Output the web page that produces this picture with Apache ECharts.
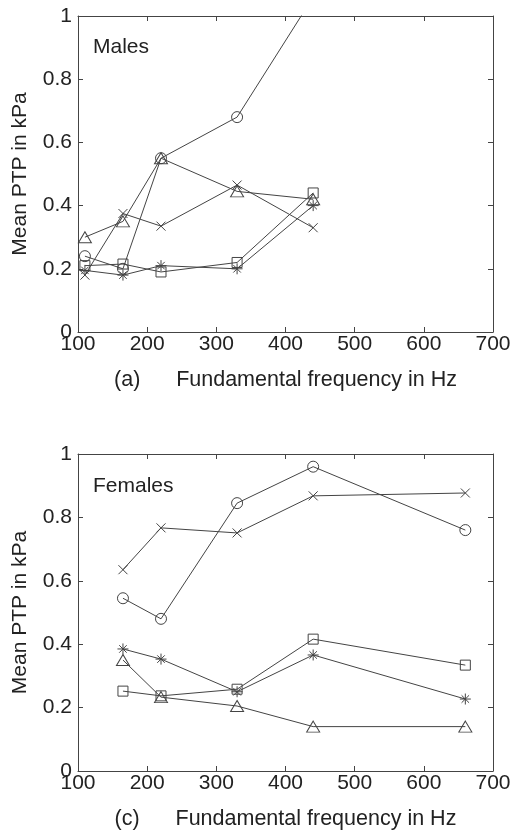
<!DOCTYPE html>
<html>
<head>
<meta charset="utf-8">
<script src="https://cdn.jsdelivr.net/npm/echarts@6/dist/echarts.min.js"></script>
<style>
  html, body { margin: 0; padding: 0; background: #fff; }
  #main { width: 511px; height: 830px; }
</style>
</head>
<body>
<div id="main"></div>
<script>
// x positions (Hz)
var freqMales = [110, 165, 220, 330, 440];
var freqFemales = [165, 220, 330, 440, 660];

// males, mean PTP in kPa
var mCircle = [0.24, 0.20, 0.55, 0.68, 1.06];
var mTriangle = [0.30, 0.35, 0.55, 0.445, 0.42];
var mCross = [0.18, 0.375, 0.335, 0.465, 0.33];
var mSquare = [0.21, 0.215, 0.19, 0.22, 0.44];
var mStar = [0.195, 0.18, 0.21, 0.20, 0.40];

// females
var fCircle = [0.545, 0.48, 0.845, 0.96, 0.76];
var fCross = [0.635, 0.767, 0.751, 0.868, 0.877];
var fStar = [0.385, 0.353, 0.25, 0.366, 0.227];
var fTriangle = [0.35, 0.233, 0.205, 0.14, 0.14];
var fSquare = [0.252, 0.237, 0.258, 0.416, 0.334];

var yTicks = [0, 0.2, 0.4, 0.6, 0.8, 1];

var ink = '#444';
var font = 'Liberation Sans, Arial, sans-serif';
var fs = 21;

var crossPath = 'path://M0,0L10,10M10,0L0,10';
var starPath = 'path://M5,0L5,10M0,5L10,5M1.6,1.6L8.4,8.4M8.4,1.6L1.6,8.4';

function zip(xs, ys) {
  return xs.map(function (x, i) { return [x, ys[i]]; });
}

function line(xs, ys, symbol, size, idx) {
  return {
    type: 'line',
    xAxisIndex: idx * 2,
    yAxisIndex: idx * 2,
    data: zip(xs, ys),
    symbol: symbol,
    symbolSize: size,
    clip: true,
    animation: false,
    lineStyle: { color: ink, width: 1 },
    itemStyle: { color: 'rgba(0,0,0,0)', borderColor: ink, borderWidth: 1 },
    emphasis: { disabled: true }
  };
}

function xAxes(grid, name) {
  return [{
    gridIndex: grid, type: 'value', min: 100, max: 700, interval: 100,
    axisLine: { onZero: false, lineStyle: { color: ink, width: 1 } },
    axisTick: { inside: true, length: 5, lineStyle: { color: ink } },
    axisLabel: { color: '#222', fontSize: fs, fontFamily: font, margin: 2 },
    splitLine: { show: false },
    name: name, nameLocation: 'middle', nameGap: 37,
    nameTextStyle: { color: '#222', fontSize: 21.5, fontFamily: font }
  }, {
    gridIndex: grid, type: 'value', position: 'top', min: 100, max: 700, interval: 100,
    axisLine: { onZero: false, lineStyle: { color: ink, width: 1 } },
    axisTick: { inside: true, length: 5, lineStyle: { color: ink } },
    axisLabel: { show: false },
    splitLine: { show: false }
  }];
}

function yAxes(grid) {
  return [{
    gridIndex: grid, type: 'value', min: 0, max: 1, interval: 0.2,
    axisLine: { onZero: false, lineStyle: { color: ink, width: 1 } },
    axisTick: { inside: true, length: 5, lineStyle: { color: ink } },
    axisLabel: { color: '#222', fontSize: fs, fontFamily: font, margin: 6,
      formatter: function (v) { return yTicks.indexOf(v) >= 0 ? String(v) : ''; } },
    splitLine: { show: false },
    name: 'Mean PTP in kPa', nameLocation: 'middle', nameGap: 47, nameRotate: 90,
    nameTextStyle: { color: '#222', fontSize: fs, fontFamily: font }
  }, {
    gridIndex: grid, type: 'value', position: 'right', min: 0, max: 1, interval: 0.2,
    axisLine: { onZero: false, lineStyle: { color: ink, width: 1 } },
    axisTick: { inside: true, length: 5, lineStyle: { color: ink } },
    axisLabel: { show: false },
    splitLine: { show: false }
  }];
}

var chart = echarts.init(document.getElementById('main'), null, { renderer: 'canvas' });
chart.setOption({
  backgroundColor: '#fff',
  animation: false,
  grid: [
    { left: 78, top: 16, width: 415, height: 316, outerBoundsMode: 'none' },
    { left: 78, top: 454, width: 415, height: 317, outerBoundsMode: 'none' }
  ],
  xAxis: xAxes(0, '(a)      Fundamental frequency in Hz').concat(xAxes(1, '(c)      Fundamental frequency in Hz')),
  yAxis: yAxes(0).concat(yAxes(1)),
  graphic: [
    { type: 'text', left: 93, top: 37, style: { text: 'Males', fontSize: fs, fontFamily: font, fill: '#222' } },
    { type: 'text', left: 93, top: 476, style: { text: 'Females', fontSize: fs, fontFamily: font, fill: '#222' } }
  ],
  series: [
    line(freqMales, mCircle, 'circle', 11, 0),
    line(freqMales, mTriangle, 'triangle', [13, 11], 0),
    line(freqMales, mCross, crossPath, 9, 0),
    line(freqMales, mSquare, 'rect', 10, 0),
    line(freqMales, mStar, starPath, 11, 0),
    line(freqFemales, fCircle, 'circle', 11, 1),
    line(freqFemales, fCross, crossPath, 9, 1),
    line(freqFemales, fStar, starPath, 11, 1),
    line(freqFemales, fTriangle, 'triangle', [13, 11], 1),
    line(freqFemales, fSquare, 'rect', 10, 1)
  ]
});
</script>
</body>
</html>
